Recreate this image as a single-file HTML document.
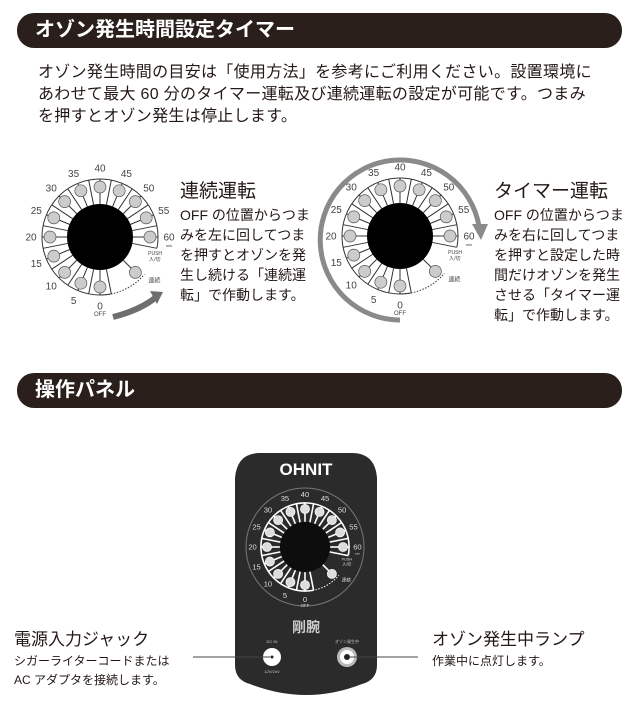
<!DOCTYPE html>
<html><head><meta charset="utf-8">
<style>
html,body{margin:0;padding:0;background:#fff;}
body{width:640px;height:724px;position:relative;overflow:hidden;font-family:"Liberation Sans","Noto Sans CJK JP",sans-serif;color:#231815;}
.hdr{position:absolute;left:17px;width:605px;height:35px;background:#2a1f1b;border-radius:17px;color:#fff;font-size:20px;font-weight:bold;line-height:35px;padding-left:18px;box-sizing:border-box;}
.t{position:absolute;white-space:nowrap;}
</style></head><body>
<div class="hdr" style="top:13px">オゾン発生時間設定タイマー</div>
<div class="t" style="left:38px;top:62px;font-size:16px;line-height:22px;letter-spacing:0.3px;">オゾン発生時間の目安は「使用方法」を参考にご利用ください。設置環境に<br>あわせて最大 60 分のタイマー運転及び連続運転の設定が可能です。つまみ<br>を押すとオゾン発生は停止します。</div>

<div class="t" style="left:180px;top:176px;font-size:19px;">連続運転</div>
<div class="t" style="left:180px;top:205px;font-size:14px;line-height:20px;">OFF の位置からつま<br>みを左に回してつま<br>を押すとオゾンを発<br>生し続ける「連続運<br>転」で作動します。</div>
<div class="t" style="left:494px;top:176px;font-size:19px;">タイマー運転</div>
<div class="t" style="left:494px;top:205px;font-size:14px;line-height:20px;">OFF の位置からつま<br>みを右に回してつま<br>を押すと設定した時<br>間だけオゾンを発生<br>させる「タイマー運<br>転」で作動します。</div>

<div class="hdr" style="top:373px">操作パネル</div>

<div class="t" style="left:14px;top:625px;font-size:17px;">電源入力ジャック</div>
<div class="t" style="left:14px;top:652px;font-size:12px;line-height:19px;">シガーライターコードまたは<br>AC アダプタを接続します。</div>
<div class="t" style="left:432px;top:625px;font-size:17px;">オゾン発生中ランプ</div>
<div class="t" style="left:432px;top:652px;font-size:12px;">作業中に点灯します。</div>

<svg id="s" width="640" height="724" style="position:absolute;left:0;top:0" xmlns="http://www.w3.org/2000/svg">
<path d="M113,317 Q140,310 155,298" stroke="#6e6e6e" stroke-width="6" fill="none"/>
<polygon points="150,291 163,292 157,304" fill="#6e6e6e"/>
<path d="M400,320 A80,80 0 1 1 479,226" stroke="#8a8a8a" stroke-width="5" fill="none"/>
<polygon points="472,224 488,224 481,240" fill="#8a8a8a"/>
<path d="M235,478 Q237,453 260,453 L352,453 Q375,453 377,478 L377,665 Q377,680 362,684 Q306,706 250,684 Q235,680 235,665 Z" fill="#2b2b2b"/>
<text x="306" y="475" fill="#fff" font-size="17" font-weight="bold" text-anchor="middle" font-family="Liberation Sans, sans-serif">OHNIT</text>
<circle cx="305" cy="547" r="59" fill="none" stroke="#777" stroke-width="1"/>
<text x="306" y="632" fill="#ccc" font-size="14" font-weight="bold" text-anchor="middle" font-family="Liberation Sans, Noto Sans CJK JP, sans-serif">剛腕</text>
<text x="272" y="643" fill="#ccc" font-size="4" text-anchor="middle">DC IN</text>
<text x="272" y="673" fill="#ccc" font-size="4" text-anchor="middle">12V/24V</text>
<text x="347" y="643" fill="#ccc" font-size="4" text-anchor="middle">オゾン発生中</text>
<circle cx="272" cy="657" r="9" fill="#fff"/>
<circle cx="347" cy="657" r="10" fill="#bbb"/><circle cx="347" cy="657" r="7" fill="#fff"/><circle cx="347" cy="657" r="3" fill="#222"/>
<line x1="193" y1="657" x2="270" y2="657" stroke="#444" stroke-width="1"/>
<line x1="349" y1="657" x2="418" y2="657" stroke="#444" stroke-width="1"/>
<circle cx="272" cy="657" r="1.5" fill="#222"/>
</svg>
<script>
var s=document.getElementById('s'),NS='http://www.w3.org/2000/svg';
function el(n,a){var e=document.createElementNS(NS,n);for(var k in a)e.setAttribute(k,a[k]);s.appendChild(e);return e;}
function pt(cx,cy,r,a){var t=a*Math.PI/180;return [cx+r*Math.cos(t),cy+r*Math.sin(t)];}
function dial(cx,cy,k,dark){
  var line=dark?'#fff':'#333',fill=dark?'#ddd':'#ccc',txt=dark?'#ddd':'#444';
  var rb=33*k,rc=50*k,ra=58*k,rn=69*k,cr=6*k,sw=dark?1.6:1;
  var p1=pt(cx,cy,ra,90-11),p2=pt(cx,cy,ra,360+11);
  el('path',{d:'M'+p1+' A'+ra+','+ra+' 0 1 1 '+p2,stroke:line,'stroke-width':sw,fill:'none'});
  for(var i=0;i<=12;i++){
    var a=90+i*22.5;
    var c=pt(cx,cy,rc,a);
    var b1=pt(cx,cy,rb,a-11.25),b2=pt(cx,cy,ra,a-11.25);
    el('line',{x1:b1[0],y1:b1[1],x2:b2[0],y2:b2[1],stroke:line,'stroke-width':sw});
    var q=pt(cx,cy,ra,a);
    el('line',{x1:c[0],y1:c[1],x2:q[0],y2:q[1],stroke:line,'stroke-width':sw});
    var r0=pt(cx,cy,rb,a);
    el('line',{x1:c[0],y1:c[1],x2:r0[0],y2:r0[1],stroke:line,'stroke-width':sw});
    el('circle',{cx:c[0],cy:c[1],r:cr,fill:fill,stroke:dark?'#fff':'#555','stroke-width':0.7});
    var n=pt(cx,cy,rn,a);
    var t=el('text',{x:n[0],y:n[1]+3.5*k,'font-size':10*k,fill:txt,'text-anchor':'middle','font-family':'Liberation Sans, sans-serif'});
    t.textContent=String(i*5);
  }
  var e=pt(cx,cy,ra,371.25);var e2=pt(cx,cy,rb,371.25);
  el('line',{x1:e[0],y1:e[1],x2:e2[0],y2:e2[1],stroke:line,'stroke-width':sw});
  var cc=pt(cx,cy,rc,45);
  el('line',{x1:cc[0],y1:cc[1],x2:pt(cx,cy,rb,45)[0],y2:pt(cx,cy,rb,45)[1],stroke:line,'stroke-width':sw});
  el('circle',{cx:cc[0],cy:cc[1],r:cr,fill:fill,stroke:dark?'#fff':'#555','stroke-width':0.7});
  var d1=pt(cx,cy,ra,88),d2=pt(cx,cy,ra,40);
  el('path',{d:'M'+d1+' A'+ra+','+ra+' 0 0 0 '+d2,stroke:line,'stroke-width':1,'stroke-dasharray':'1.5,1.5',fill:'none'});
  el('circle',{cx:cx,cy:cy,r:rb,fill:dark?'#0d0d0d':'#000'});
  var o=pt(cx,cy,rn,90);
  var t=el('text',{x:o[0],y:o[1]+10*k,'font-size':6*k,fill:txt,'text-anchor':'middle'});t.textContent='OFF';
  var m=pt(cx,cy,rn,0);
  t=el('text',{x:m[0],y:m[1]+10*k,'font-size':4*k,fill:txt,'text-anchor':'middle'});t.textContent='min';
  var p=pt(cx,cy,rb+14*k,20);
  t=el('text',{x:p[0]+4*k,y:p[1]+2*k,'font-size':5*k,fill:txt});t.textContent='PUSH';
  t=el('text',{x:p[0]+5*k,y:p[1]+8*k,'font-size':5*k,fill:txt});t.textContent='入/切';
  var r=pt(cx,cy,rn,38);
  t=el('text',{x:r[0],y:r[1]+3*k,'font-size':6*k,fill:txt,'text-anchor':'middle'});t.textContent='連続';
}
dial(100,237,1,false);
dial(400,236,1,false);
dial(305,547,0.76,true);
</script>
</body></html>
